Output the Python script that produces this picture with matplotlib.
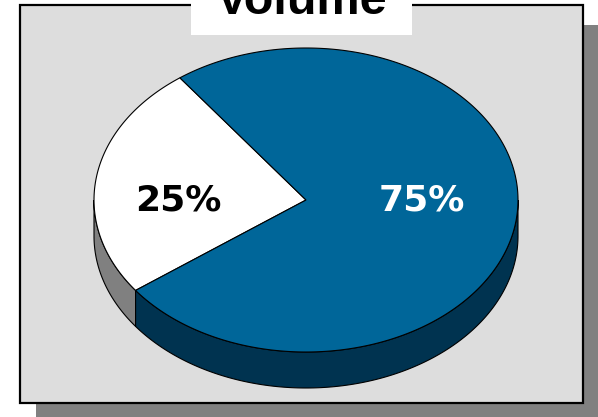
import numpy as np
import matplotlib
matplotlib.use("Agg")
import matplotlib.pyplot as plt
from matplotlib.patches import Rectangle, Polygon

# Data
title = "Volume"
categories = ["Other", "Volume share"]
shares = [25, 75]
labels = ["25%", "75%"]

# Styling
top_colors = ["#ffffff", "#006699"]
side_colors = ["#808080", "#003350"]
label_colors = ["#000000", "#ffffff"]
label_radius = [0.61, 0.55]

W, H = 598, 417
fig = plt.figure(figsize=(W / 100, H / 100), dpi=100)
fig.patch.set_facecolor("white")
ax = fig.add_axes([0, 0, 1, 1])
ax.set_xlim(0, W)
ax.set_ylim(H, 0)
ax.axis("off")

# Panel with drop shadow
ax.add_patch(Rectangle((36, 25), 600, 420, facecolor="#808080", edgecolor="none", zorder=0))
ax.add_patch(Rectangle((20, 5), 563, 398, facecolor="#dddddd", edgecolor="black",
                       linewidth=1.6, zorder=1))

# Title box
ax.add_patch(Rectangle((191, -10), 221, 45, facecolor="white", edgecolor="none", zorder=2))
ax.text(301.5, 14, title, ha="center", va="baseline", fontsize=35,
        fontweight="bold", family="Liberation Sans", color="black", zorder=3)

# 3D pie geometry
cx, cy = 306, 200
a, b = 212, 152
depth = 36
start = 126.5  # degrees, counter-clockwise

def pt(t_deg, dy=0.0):
    t = np.radians(t_deg)
    return cx + a * np.cos(t), cy - b * np.sin(t) + dy

total = float(sum(shares))
bounds = []
ang = start
for s in shares:
    span = 360.0 * s / total
    bounds.append((ang, ang + span))
    ang += span

# Side walls (front half: angles 180..360)
for (t0, t1), col in zip(bounds, side_colors):
    for k in range(-1, 2):
        lo = max(t0, 180 + 360 * k)
        hi = min(t1, 360 + 360 * k)
        if hi <= lo:
            continue
        ts = np.linspace(lo, hi, 200)
        top = [pt(t) for t in ts]
        bot = [pt(t, depth) for t in ts[::-1]]
        ax.add_patch(Polygon(top + bot, closed=True, facecolor=col,
                             edgecolor="black", linewidth=0.8, zorder=4))

# Top faces
for (t0, t1), col in zip(bounds, top_colors):
    ts = np.linspace(t0, t1, 400)
    verts = [(cx, cy)] + [pt(t) for t in ts]
    ax.add_patch(Polygon(verts, closed=True, facecolor=col, edgecolor="black",
                         linewidth=0.8, zorder=5))

# Labels
for (t0, t1), lab, lc, r in zip(bounds, labels, label_colors, label_radius):
    mid = np.radians((t0 + t1) / 2)
    x = cx + r * a * np.cos(mid)
    ax.text(x, cy, lab, ha="center", va="center", fontsize=26,
            fontweight="bold", family="DejaVu Sans", color=lc, zorder=6)

fig.savefig("out.png", dpi=100)
